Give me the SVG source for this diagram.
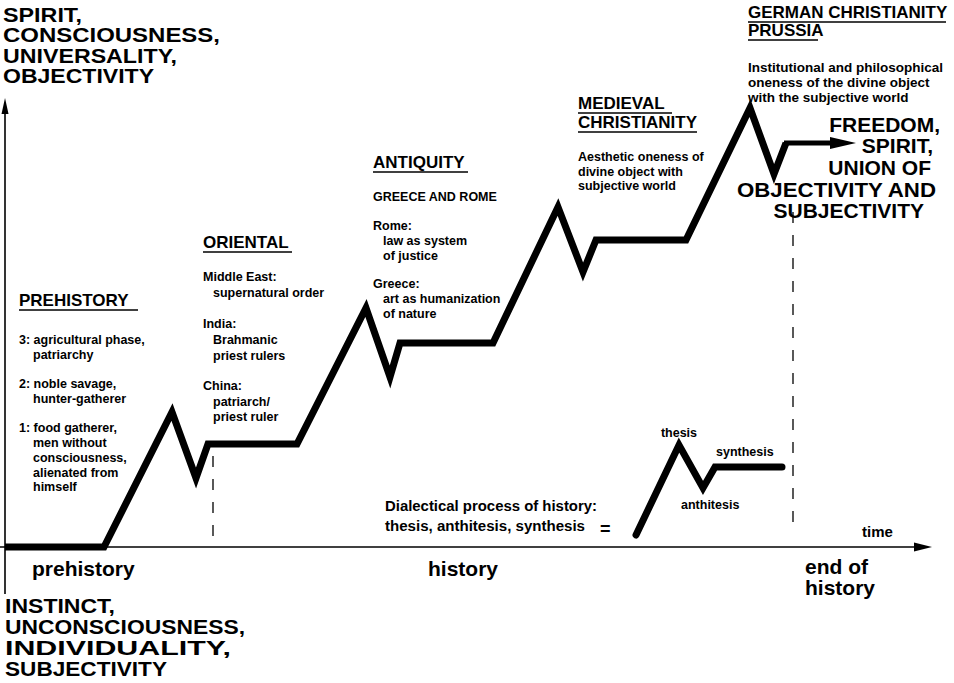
<svg xmlns="http://www.w3.org/2000/svg" width="954" height="683" viewBox="0 0 954 683">
<style>
text{font-family:"Liberation Sans",Arial,sans-serif;font-weight:bold;fill:#000}
.big{font-size:20px}
.huge{font-size:21px}
.hd{font-size:17px}
.sm{font-size:12.5px}
.gm{font-size:13.5px}
.dl{font-size:14px}
.axl{font-size:21px}
.ul{stroke:#000;stroke-width:1.6;fill:none}
.thick{stroke:#000;stroke-width:7;fill:none;stroke-linejoin:miter;stroke-miterlimit:10}
.axis{stroke:#000;stroke-width:1.6;fill:none}
.dash{stroke:#000;stroke-width:1.3;fill:none;stroke-dasharray:11 12}
</style>
<rect width="954" height="683" fill="#fff"/>
<g id="connectors">
<line class="axis" x1="5" y1="594" x2="5" y2="110"/>
<polygon points="5,98 1.5,114 8.5,114" fill="#000"/>
<line class="axis" x1="0" y1="547" x2="916" y2="547"/>
<polygon points="932,547 914,542.5 914,551.5" fill="#000"/>
<polyline class="thick" points="5,547 104,547 172,412 196,478 208,444 297,444 366,308 390,377 400,343 493,343 558,207 583,272 596,240 686,240 750,108 774,174 786,143"/>
<line x1="784" y1="143" x2="834" y2="143" stroke="#000" stroke-width="5"/>
<polygon points="856,143 830,137 830,149" fill="#000"/>
<polyline class="thick" points="636,535 679,445 703,488 715,467 782,467" stroke-linecap="round"/>
<line class="dash" x1="213" y1="456" x2="213" y2="545"/>
<line class="dash" x1="793" y1="212" x2="793" y2="528"/>
</g>
<g id="top-label">
<text class="big" x="3" y="22" textLength="79" lengthAdjust="spacingAndGlyphs">SPIRIT,</text>
<text class="big" x="3" y="42" textLength="217" lengthAdjust="spacingAndGlyphs">CONSCIOUSNESS,</text>
<text class="big" x="3" y="63" textLength="174" lengthAdjust="spacingAndGlyphs">UNIVERSALITY,</text>
<text class="big" x="3" y="83" textLength="151" lengthAdjust="spacingAndGlyphs">OBJECTIVITY</text>
</g>
<g id="bottom-label">
<text class="big" x="5" y="613" textLength="110" lengthAdjust="spacingAndGlyphs">INSTINCT,</text>
<text class="big" x="5" y="634" textLength="240" lengthAdjust="spacingAndGlyphs">UNCONSCIOUSNESS,</text>
<text class="big" x="5" y="655" textLength="226" lengthAdjust="spacingAndGlyphs">INDIVIDUALITY,</text>
<text class="big" x="5" y="676" textLength="162" lengthAdjust="spacingAndGlyphs">SUBJECTIVITY</text>
</g>
<g id="prehistory">
<text class="hd" x="19" y="306">PREHISTORY</text>
<line class="ul" x1="19" y1="310" x2="138" y2="310"/>
<text class="sm" x="19" y="344">3: agricultural phase,</text>
<text class="sm" x="33" y="359">patriarchy</text>
<text class="sm" x="19" y="388">2: noble savage,</text>
<text class="sm" x="33" y="403">hunter-gatherer</text>
<text class="sm" x="19" y="432">1: food gatherer,</text>
<text class="sm" x="33" y="447">men without</text>
<text class="sm" x="33" y="462">consciousness,</text>
<text class="sm" x="33" y="477">alienated from</text>
<text class="sm" x="33" y="491">himself</text>
</g>
<g id="oriental">
<text class="hd" x="203" y="248">ORIENTAL</text>
<line class="ul" x1="203" y1="252" x2="292" y2="252"/>
<text class="sm" x="203" y="281">Middle East:</text>
<text class="sm" x="213" y="297">supernatural order</text>
<text class="sm" x="203" y="328">India:</text>
<text class="sm" x="213" y="344">Brahmanic</text>
<text class="sm" x="213" y="360">priest rulers</text>
<text class="sm" x="203" y="390">China:</text>
<text class="sm" x="213" y="406">patriarch/</text>
<text class="sm" x="213" y="421">priest ruler</text>
</g>
<g id="antiquity">
<text class="hd" x="373" y="168">ANTIQUITY</text>
<line class="ul" x1="373" y1="172" x2="468" y2="172"/>
<text class="sm" x="373" y="201">GREECE AND ROME</text>
<text class="sm" x="373" y="230">Rome:</text>
<text class="sm" x="383" y="245">law as system</text>
<text class="sm" x="383" y="260">of justice</text>
<text class="sm" x="373" y="288">Greece:</text>
<text class="sm" x="383" y="303">art as humanization</text>
<text class="sm" x="383" y="318">of nature</text>
</g>
<g id="medieval">
<text class="hd" x="578" y="109">MEDIEVAL</text>
<line class="ul" x1="578" y1="113" x2="672" y2="113"/>
<text class="hd" x="578" y="128">CHRISTIANITY</text>
<line class="ul" x1="578" y1="132" x2="697" y2="132"/>
<text class="sm" x="578" y="161">Aesthetic oneness of</text>
<text class="sm" x="578" y="176">divine object with</text>
<text class="sm" x="578" y="190">subjective world</text>
</g>
<g id="german">
<text class="hd" x="748" y="18">GERMAN CHRISTIANITY</text>
<line class="ul" x1="748" y1="22" x2="946" y2="22"/>
<text class="hd" x="748" y="36">PRUSSIA</text>
<line class="ul" x1="748" y1="40" x2="818" y2="40"/>
<text class="gm" x="748" y="72">Institutional and philosophical</text>
<text class="gm" x="748" y="87">oneness of the divine object</text>
<text class="gm" x="748" y="102">with the subjective world</text>
</g>
<g id="freedom">
<text class="huge" x="940" y="132" text-anchor="end">FREEDOM,</text>
<text class="huge" x="933" y="153" text-anchor="end">SPIRIT,</text>
<text class="huge" x="931" y="175" text-anchor="end">UNION OF</text>
<text class="huge" x="737" y="197" textLength="199" lengthAdjust="spacingAndGlyphs">OBJECTIVITY AND</text>
<text class="huge" x="924" y="218" text-anchor="end">SUBJECTIVITY</text>
</g>
<g id="dialectic">
<text class="dl" x="385" y="511" textLength="212" lengthAdjust="spacingAndGlyphs">Dialectical process of history:</text>
<text class="dl" x="385" y="531" textLength="200" lengthAdjust="spacingAndGlyphs">thesis, anthitesis, synthesis</text>
<text x="600" y="535" style="font-size:18px">=</text>
<text class="sm" x="679" y="437" text-anchor="middle">thesis</text>
<text class="sm" x="716" y="456">synthesis</text>
<text class="sm" x="681" y="509">anthitesis</text>
</g>
<g id="time-labels">
<text x="862" y="537" style="font-size:15px">time</text>
<text class="axl" x="32" y="576">prehistory</text>
<text class="axl" x="428" y="576">history</text>
<text class="axl" x="805" y="574">end of</text>
<text class="axl" x="805" y="595">history</text>
</g>
</svg>
